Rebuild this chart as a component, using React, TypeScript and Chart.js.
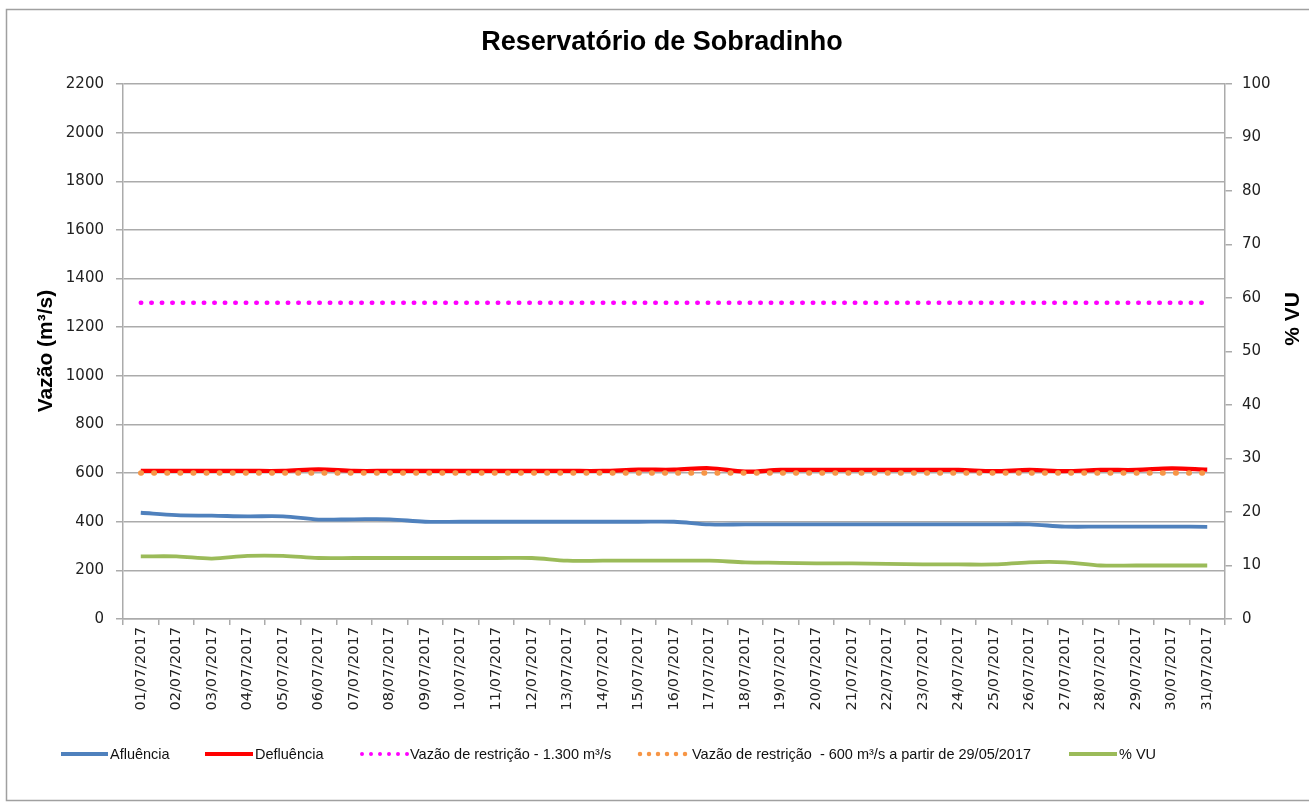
import React, { useEffect, useRef } from "react";
import { Chart, registerables } from "chart.js";

Chart.register(...registerables);

const days: string[] = [
  "01/07/2017", "02/07/2017", "03/07/2017", "04/07/2017", "05/07/2017", "06/07/2017",
  "07/07/2017", "08/07/2017", "09/07/2017", "10/07/2017", "11/07/2017", "12/07/2017",
  "13/07/2017", "14/07/2017", "15/07/2017", "16/07/2017", "17/07/2017", "18/07/2017",
  "19/07/2017", "20/07/2017", "21/07/2017", "22/07/2017", "23/07/2017", "24/07/2017",
  "25/07/2017", "26/07/2017", "27/07/2017", "28/07/2017", "29/07/2017", "30/07/2017",
  "31/07/2017",
];

const afluencia: number[] = [
  437, 427, 425, 422, 422, 409, 410, 410, 400, 400, 400, 400, 400, 400, 400, 400,
  389, 389, 389, 389, 389, 389, 389, 389, 389, 389, 380, 380, 380, 380, 379,
];

const defluencia: number[] = [
  609, 609, 609, 609, 609, 615, 609, 609, 609, 609, 609, 609, 609, 609, 614, 614,
  620, 606, 613, 613, 613, 613, 613, 613, 608, 613, 608, 613, 613, 619, 614,
];

const restricao1300: number[] = [
  1300, 1300, 1300, 1300, 1300, 1300, 1300, 1300, 1300, 1300, 1300, 1300, 1300, 1300, 1300, 1300,
  1300, 1300, 1300, 1300, 1300, 1300, 1300, 1300, 1300, 1300, 1300, 1300, 1300, 1300, 1300,
];

const restricao600: number[] = [
  600, 600, 600, 600, 600, 600, 600, 600, 600, 600, 600, 600, 600, 600, 600, 600,
  600, 600, 600, 600, 600, 600, 600, 600, 600, 600, 600, 600, 600, 600, 600,
];

const volumeUtil: number[] = [
  11.7, 11.7, 11.3, 11.8, 11.8, 11.4, 11.4, 11.4, 11.4, 11.4, 11.4, 11.4, 10.9, 10.9, 10.9, 10.9,
  10.9, 10.6, 10.5, 10.4, 10.4, 10.3, 10.2, 10.2, 10.2, 10.6, 10.6, 10.0, 10.0, 10.0, 10.0,
];

const seriesLabels: string[] = [
  "Afluência",
  "Defluência",
  "Vazão de restrição - 1.300 m³/s",
  "Vazão de restrição  - 600 m³/s a partir de 29/05/2017",
  "% VU",
];

const COLORS = {
  blue: "#4F81BD",
  red: "#FF0000",
  magenta: "#FF00FF",
  orange: "#F79646",
  green: "#9BBB59",
  grid: "#ABABAB",
  text: "#222222",
};

const NARROW = "'Liberation Sans Narrow', 'Liberation Sans', Arial, sans-serif";
const TICKFONT = "'DejaVu Sans', Verdana, sans-serif";

const decorPlugin = {
  id: "decor",
  beforeDraw(chart: any) {
    const ctx = chart.ctx;
    ctx.save();
    ctx.fillStyle = "#ffffff";
    ctx.fillRect(0, 0, chart.width, chart.height);
    ctx.strokeStyle = "#A0A0A0";
    ctx.lineWidth = 1.5;
    ctx.strokeRect(6.5, 9.5, chart.width + 20, chart.height - 11);
    ctx.restore();
  },
  afterDraw(chart: any) {
    const ctx = chart.ctx;
    ctx.save();
    // Title
    ctx.fillStyle = "#000";
    ctx.font = `bold 27px ${NARROW}`;
    ctx.textAlign = "center";
    ctx.textBaseline = "middle";
    ctx.fillText("Reservatório de Sobradinho", 662, 43);

    // Axis titles
    ctx.font = `bold 21px ${NARROW}`;
    ctx.save();
    ctx.translate(46, 351);
    ctx.rotate(-Math.PI / 2);
    ctx.fillText("Vazão (m³/s)", 0, 0);
    ctx.restore();
    ctx.save();
    ctx.translate(1293, 319);
    ctx.rotate(-Math.PI / 2);
    ctx.fillText("% VU", 0, 0);
    ctx.restore();

    // Legend
    const ly = 754;
    ctx.font = `14.5px ${NARROW}`;
    ctx.textAlign = "left";
    ctx.fillStyle = "#111";
    const items = [
      { x: 61, len: 47, color: COLORS.blue, dotted: false, w: 4 },
      { x: 205, len: 48, color: COLORS.red, dotted: false, w: 4 },
      { x: 360, len: 48, color: COLORS.magenta, dotted: true, w: 4 },
      { x: 638, len: 52, color: COLORS.orange, dotted: true, w: 4.5 },
      { x: 1069, len: 48, color: COLORS.green, dotted: false, w: 4 },
    ];
    items.forEach((it, i) => {
      ctx.save();
      ctx.strokeStyle = it.color;
      ctx.lineWidth = it.w;
      if (it.dotted) {
        ctx.lineCap = "round";
        ctx.setLineDash([0, 9]);
      } else {
        ctx.lineCap = "butt";
      }
      ctx.beginPath();
      ctx.moveTo(it.x + (it.dotted ? 2 : 0), ly);
      ctx.lineTo(it.x + it.len, ly);
      ctx.stroke();
      ctx.restore();
      ctx.fillText(seriesLabels[i], it.x + it.len + 2, ly + 1);
    });
    ctx.restore();
  },
};

export default function App() {
  const canvasRef = useRef<HTMLCanvasElement | null>(null);

  useEffect(() => {
    if (!canvasRef.current) return;
    const chart = new Chart(canvasRef.current, {
      type: "line",
      data: {
        labels: days,
        datasets: [
          {
            label: seriesLabels[0],
            data: afluencia,
            yAxisID: "y",
            borderColor: COLORS.blue,
            backgroundColor: COLORS.blue,
            borderWidth: 3.8,
            pointRadius: 0,
            tension: 0.35,
            order: 5,
          },
          {
            label: seriesLabels[1],
            data: defluencia,
            yAxisID: "y",
            borderColor: COLORS.red,
            backgroundColor: COLORS.red,
            borderWidth: 4.2,
            pointRadius: 0,
            tension: 0.35,
            order: 4,
          },
          {
            label: seriesLabels[2],
            data: restricao1300,
            yAxisID: "y",
            borderColor: COLORS.magenta,
            backgroundColor: COLORS.magenta,
            borderWidth: 4.5,
            borderDash: [0.5, 10],
            borderCapStyle: "round",
            pointRadius: 0,
            order: 3,
          },
          {
            label: seriesLabels[3],
            data: restricao600,
            yAxisID: "y",
            borderColor: COLORS.orange,
            backgroundColor: COLORS.orange,
            borderWidth: 5.5,
            borderDash: [0.5, 12.6],
            borderCapStyle: "round",
            pointRadius: 0,
            order: 2,
          },
          {
            label: seriesLabels[4],
            data: volumeUtil,
            yAxisID: "y1",
            borderColor: COLORS.green,
            backgroundColor: COLORS.green,
            borderWidth: 3.8,
            pointRadius: 0,
            tension: 0.35,
            order: 1,
          },
        ],
      },
      options: {
        responsive: false,
        animation: false,
        devicePixelRatio: 1,
        layout: { padding: { top: 84, bottom: 83, left: 0, right: 0 } },
        plugins: {
          legend: { display: false },
          title: { display: false },
          tooltip: { enabled: false },
        },
        scales: {
          x: {
            type: "category",
            offset: true,
            grid: {
              display: true,
              drawOnChartArea: false,
              drawTicks: true,
              tickLength: 6,
              offset: true,
              color: COLORS.grid,
              lineWidth: 1.5,
            },
            border: { display: true, color: COLORS.grid, width: 1.5 },
            ticks: {
              autoSkip: false,
              minRotation: 90,
              maxRotation: 90,
              padding: 2,
              color: COLORS.text,
              font: { family: TICKFONT, size: 14.5 },
            },
            afterFit: (s: any) => {
              s.height = 100;
            },
          },
          y: {
            position: "left",
            min: 0,
            max: 2200,
            ticks: {
              stepSize: 200,
              padding: 12,
              color: COLORS.text,
              font: { family: TICKFONT, size: 15 },
              callback: (v: any) => String(v),
            },
            grid: {
              color: COLORS.grid,
              lineWidth: 1.5,
              tickLength: 7,
            },
            border: { display: true, color: COLORS.grid, width: 1.5 },
            afterFit: (s: any) => {
              s.width = 123;
            },
          },
          y1: {
            position: "right",
            min: 0,
            max: 100,
            ticks: {
              stepSize: 10,
              padding: 10,
              color: COLORS.text,
              font: { family: TICKFONT, size: 15 },
              callback: (v: any) => String(v),
            },
            grid: {
              drawOnChartArea: false,
              color: COLORS.grid,
              lineWidth: 1.5,
              tickLength: 7,
            },
            border: { display: true, color: COLORS.grid, width: 1.5 },
            afterFit: (s: any) => {
              s.width = 84;
            },
          },
        },
      },
      plugins: [decorPlugin],
    });
    return () => chart.destroy();
  }, []);

  return (
    <div style={{ position: "fixed", left: 0, top: 0, width: 1309, height: 802, background: "#fff" }}>
      <canvas ref={canvasRef} width={1309} height={802} style={{ display: "block" }} />
    </div>
  );
}
